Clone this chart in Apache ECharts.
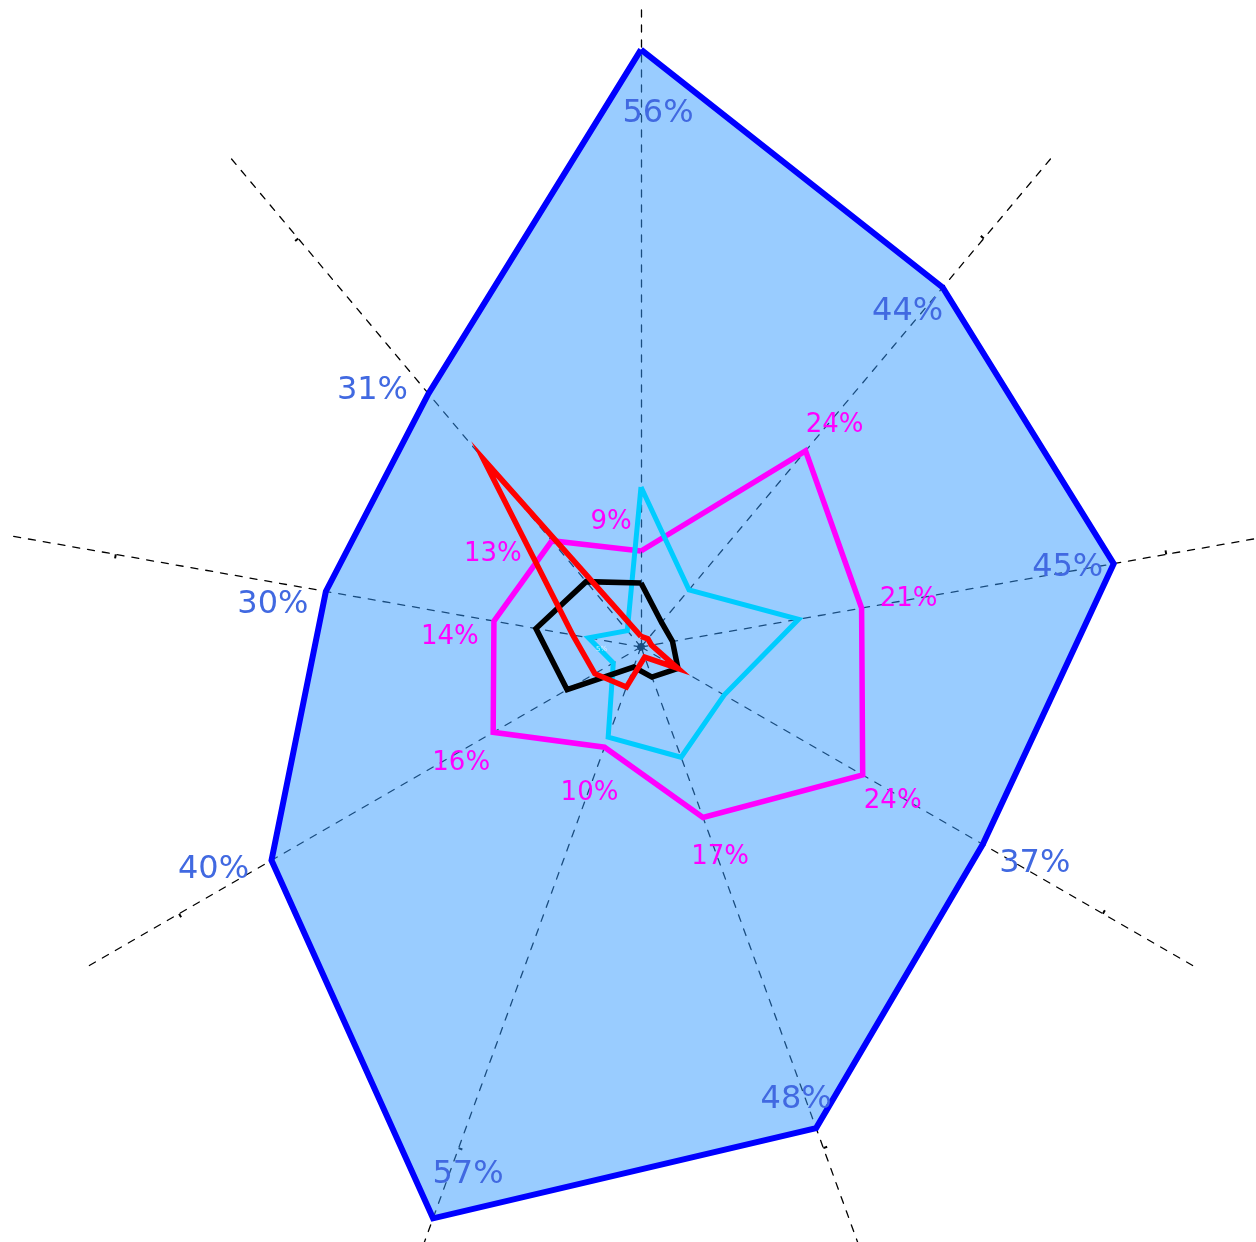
<!DOCTYPE html>
<html><head><meta charset="utf-8">
<script src="https://cdn.jsdelivr.net/npm/echarts@6/dist/echarts.min.js"></script>
<style>html,body{margin:0;padding:0;background:#fff}#c{width:1256px;height:1242px}</style>
</head><body><div id="c"></div>
<script>
// Axes go counter-clockwise from the top (ECharts radar order)
const axisNames = ['', '', '', '', '', '', '', '', ''];
const axisMax = 60;
const tickValue = 50;
const blueValues    = [56, 31, 30, 40, 57, 48, 37, 45, 44];
const magentaValues = [9, 13, 14, 16, 10, 17, 24, 21, 24];
const cyanValues    = [15, 2, 5, 3, 9, 11, 9, 15, 7];
const blackValues   = [6, 8, 10, 8, 2, 3, 4, 3, 3];
const redValues     = [1, 23, 6.5, 5, 4, 1, 4, 1, 1];

// label placement (styling)
const blueOffsets = [[17,64],[-56,-3],[-53,13],[-58,9],[35,-44],[-20,-28],[52,19],[-46,4],[-35,24]];
const magentaOffsets = [[-30,-29],[-59,13],[-44,16],[-32,31],[-15,46],[17,40],[30,26],[47,-9],[29,-26]];

const FONT = 'DejaVu Sans';

function labelItems(values, offsets, color, size, only) {
  const items = [];
  values.forEach((v, i) => {
    if (only && only.indexOf(i) < 0) return;
    items.push({
      value: values,
      symbol: 'circle',
      symbolSize: 1,
      itemStyle: { color: 'rgba(0,0,0,0)', borderWidth: 0 },
      lineStyle: { opacity: 0, width: 0 },
      label: {
        show: true,
        position: 'inside',
        offset: offsets[i],
        color: color,
        fontSize: size,
        fontFamily: FONT,
        formatter: p => (p.dimensionIndex === i ? p.value + '%' : '')
      }
    });
  });
  return items;
}

function mainItem(values, color, width) {
  return {
    value: values,
    symbol: 'none',
    lineStyle: { color: color, width: width, join: 'miter' },
    itemStyle: { color: color }
  };
}
function areaItem(values, color, opacity) {
  return {
    value: values,
    symbol: 'none',
    lineStyle: { opacity: 0, width: 0 },
    itemStyle: { color: color },
    areaStyle: { color: color, opacity: opacity }
  };
}

const chart = echarts.init(document.getElementById('c'), null, { renderer: 'canvas' });

const cyanOffsets = cyanValues.map(() => [13, 11]);

chart.setOption({
  animation: false,
  backgroundColor: '#ffffff',
  radar: [
    {
      center: [641, 647],
      radius: 640,
      startAngle: 90,
      shape: 'polygon',
      splitNumber: 1,
      indicator: axisNames.map(n => ({ name: n, min: 0, max: axisMax })),
      axisName: { show: false },
      axisLine: { show: true, lineStyle: { color: '#000', width: 1.3, type: [7, 8] } },
      axisTick: { show: false },
      splitLine: { show: false },
      splitArea: { show: false },
      z: 0
    },
    {
      center: [641, 647],
      radius: 640 * tickValue / axisMax,
      startAngle: 90,
      shape: 'polygon',
      splitNumber: 1,
      indicator: axisNames.map(n => ({ name: n, min: 0, max: tickValue })),
      axisName: { show: false },
      axisLine: { show: false },
      axisTick: { show: true, length: 4, lineStyle: { color: '#000', width: 2 } },
      splitLine: { show: false },
      splitArea: { show: false },
      z: 0
    }
  ],
  series: [
    {
      type: 'radar', radarIndex: 0, z: 2,
      data: [areaItem(blueValues, '#3399FF', 0.5), mainItem(blueValues, '#0000FF', 6)]
        .concat(labelItems(blueValues, blueOffsets, '#4169E1', 32))
    },
    {
      type: 'radar', radarIndex: 0, z: 2,
      data: [mainItem(magentaValues, '#FF00FF', 5.5)]
        .concat(labelItems(magentaValues, magentaOffsets, '#FF00FF', 26))
    },
    {
      type: 'radar', radarIndex: 0, z: 2,
      data: [mainItem(cyanValues, '#00CCFF', 5)]
        .concat(labelItems(cyanValues, cyanOffsets, 'rgba(255,255,255,0.75)', 7, [2]))
    },
    {
      type: 'radar', radarIndex: 0, z: 2,
      data: [mainItem(blackValues, '#000000', 5.5)]
    },
    {
      type: 'radar', radarIndex: 0, z: 2,
      data: [mainItem(redValues, '#FF0000', 5.5)]
    }
  ]
});
</script>
</body></html>
